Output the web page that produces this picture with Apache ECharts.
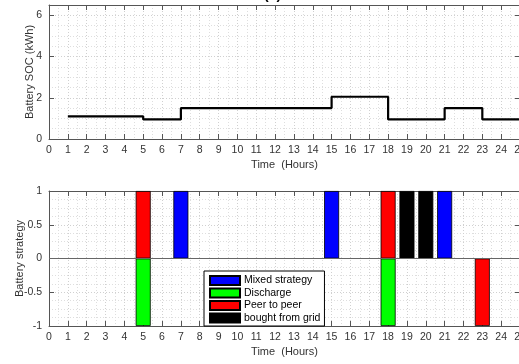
<!DOCTYPE html>
<html>
<head>
<meta charset="utf-8">
<script src="https://cdn.jsdelivr.net/npm/echarts@6/dist/echarts.min.js"></script>
<style>html,body{margin:0;padding:0;background:#fff;}#c{width:519px;height:364px;}</style>
</head>
<body>
<div id="c"></div>
<script>
// SOC step line (kWh), value holds from each hour until the next point
var socHours = [1, 5, 7, 15, 18, 21, 23, 25];
var socValues = [1.1, 0.95, 1.5, 2.05, 0.95, 1.5, 0.95, 0.95];

// Battery strategy bars: [hour, value]
var mixedStrategy = [[7, 1], [15, 1], [21, 1]];
var dischargeData = [[5, -1], [18, -1]];
var peerToPeer = [[5, 1], [18, 1], [23, -1]];
var boughtFromGrid = [[19, 1], [20, 1]];

var xTicksMax = 25;

var chart = echarts.init(document.getElementById('c'), null, {renderer: 'canvas'});
var FONT = 'Liberation Sans, Arial, sans-serif';
var axisCol = '#555';
var labCol = '#333';
var gridLine = {show: true, lineStyle: {color: '#d0d0d0', type: [1, 2], width: 1}};
var minorLine = {show: true, lineStyle: {color: '#dedede', type: [1, 2], width: 1}};

function xBottom(gi, name) {
  return {
    type: 'value', gridIndex: gi, position: 'bottom', min: 0, max: xTicksMax, interval: 1,
    name: name, nameLocation: 'middle', nameGap: 20, nameMoveOverlap: false,
    nameTextStyle: {fontFamily: FONT, fontSize: 11, color: labCol},
    axisLine: {show: true, onZero: false, lineStyle: {color: axisCol, width: 1}},
    axisTick: {show: true, inside: true, length: 5, lineStyle: {color: axisCol}},
    axisLabel: {fontFamily: FONT, fontSize: 10.5, color: labCol, margin: 6},
    splitLine: gridLine,
    minorTick: {show: false, splitNumber: 2},
    minorSplitLine: minorLine
  };
}
function xTop(gi) {
  return {
    type: 'value', gridIndex: gi, position: 'top', min: 0, max: xTicksMax, interval: 1,
    axisLine: {show: true, onZero: false, lineStyle: {color: axisCol, width: 1}},
    axisTick: {show: true, inside: true, length: 5, lineStyle: {color: axisCol}},
    axisLabel: {show: false}, splitLine: {show: false}
  };
}
function yLeft(gi, min, max, interval, name, gap, minorN) {
  return {
    type: 'value', gridIndex: gi, position: 'left', min: min, max: max, interval: interval,
    name: name, nameLocation: 'middle', nameGap: gap, nameMoveOverlap: false,
    nameTextStyle: {fontFamily: FONT, fontSize: 11, color: labCol},
    axisLine: {show: true, onZero: false, lineStyle: {color: axisCol, width: 1}},
    axisTick: {show: true, inside: true, length: 5, lineStyle: {color: axisCol}},
    axisLabel: {fontFamily: FONT, fontSize: 10.5, color: labCol, margin: 7, showMaxLabel: max === 1},
    splitLine: gridLine,
    minorTick: {show: false, splitNumber: minorN},
    minorSplitLine: minorLine
  };
}
function yRight(gi, min, max, interval) {
  return {
    type: 'value', gridIndex: gi, position: 'right', min: min, max: max, interval: interval,
    axisLine: {show: true, onZero: false, lineStyle: {color: axisCol, width: 1}},
    axisTick: {show: true, inside: true, length: 5, lineStyle: {color: axisCol}},
    axisLabel: {show: false}, splitLine: {show: false}
  };
}

var socLine = socHours.map(function (h, i) { return [h, socValues[i]]; });

function barSeries(name, color, data) {
  return {
    name: name, type: 'bar', xAxisIndex: 2, yAxisIndex: 2, stack: 'strategy',
    barWidth: 15, data: data,
    itemStyle: {color: color, borderColor: '#000', borderWidth: 0.8},
    emphasis: {disabled: true}
  };
}

var barsMixed = barSeries('Mixed strategy', '#0000ff', mixedStrategy);
barsMixed.markLine = {
  silent: true, symbol: 'none', label: {show: false},
  lineStyle: {color: '#666', type: 'solid', width: 1},
  data: [{yAxis: 0}]
};

chart.setOption({
  animation: false,
  backgroundColor: '#fff',
  textStyle: {fontFamily: FONT},
  graphic: [{
    type: 'text', left: 264, top: -12,
    style: {text: '(a)', font: 'bold 14px ' + FONT, fill: '#000'}
  }],
  grid: [
    {left: 49, top: 5, width: 471, height: 134, outerBoundsMode: 'none', containLabel: false},
    {left: 49, top: 191, width: 471, height: 135, outerBoundsMode: 'none', containLabel: false}
  ],
  xAxis: [xBottom(0, 'Time  (Hours)'), xTop(0), xBottom(1, 'Time  (Hours)'), xTop(1)],
  yAxis: [
    yLeft(0, 0, 6.5, 2, 'Battery SOC (kWh)', 14, 4), yRight(0, 0, 6.5, 2),
    yLeft(1, -1, 1, 0.5, 'Battery strategy', 24, 4), yRight(1, -1, 1, 0.5)
  ],
  legend: {
    show: true, orient: 'vertical', left: 204, top: 271,
    itemWidth: 30, itemHeight: 9, itemGap: 0.5,
    padding: [3.5, 4, 2, 5],
    backgroundColor: '#fff', borderColor: '#000', borderWidth: 1,
    icon: 'rect',
    textStyle: {fontFamily: FONT, fontSize: 10.5, color: '#000', lineHeight: 12, padding: [0, 0, 0, -1]},
    data: ['Mixed strategy', 'Discharge', 'Peer to peer', 'bought from grid']
  },
  series: [
    {
      name: 'SOC', type: 'line', xAxisIndex: 0, yAxisIndex: 0, step: 'end',
      data: socLine, showSymbol: false, symbol: 'none',
      lineStyle: {color: '#000', width: 2.2}
    },
    barsMixed,
    barSeries('Discharge', '#00ff00', dischargeData),
    barSeries('Peer to peer', '#ff0000', peerToPeer),
    barSeries('bought from grid', '#000000', boughtFromGrid)
  ]
});
</script>
</body>
</html>
